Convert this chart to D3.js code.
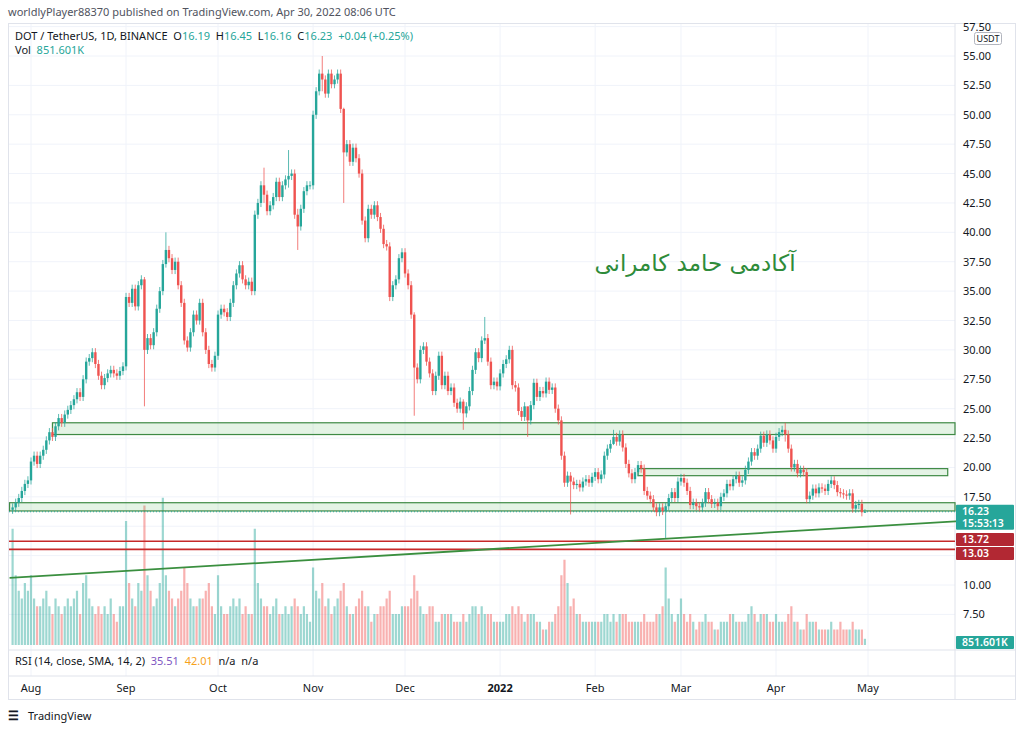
<!DOCTYPE html>
<html><head><meta charset="utf-8">
<script src="https://cdn.jsdelivr.net/npm/d3@7"></script>
<style>
body{margin:0;background:#fff;font-family:"Noto Sans",Roboto,sans-serif}
text{white-space:pre}
</style></head><body>
<script>
// daily closes, one array per month
var julClose = [16.6,17.0,17.4,18.0,18.6,18.9];
var augClose = [20.5,21.0,20.3,21.0,21.5,22.3,23.0,22.6,23.5,24.2,23.8,24.5,24.9,25.3,25.8,26.4,26.0,27.5,29.0,29.3,29.8,28.8,27.8,27.0,27.6,28.0,28.3,28.0,27.8,28.2,28.6];
var sepClose = [34.5,34.0,35.2,33.7,35.5,36.0,30.0,31.0,30.4,31.5,33.5,35.0,37.3,38.5,37.8,36.8,37.5,35.5,34.0,30.8,30.2,31.5,33.0,32.5,34.0,31.5,30.0,28.8,28.5,29.5];
var octClose = [33.0,33.5,33.2,32.8,34.0,35.5,36.5,37.2,36.0,35.5,35.8,35.0,41.5,42.5,44.0,43.2,41.8,42.3,43.0,44.3,43.0,44.0,44.5,44.8,45.0,41.5,40.5,42.0,43.5,44.0,44.0];
var novClose = [50.0,52.0,53.5,53.0,51.8,53.5,52.6,53.0,53.5,50.5,46.8,47.5,46.0,47.2,46.3,45.0,41.0,39.5,42.0,41.5,42.3,41.3,40.3,39.0,38.8,34.5,35.5,36.0,37.8,38.3];
var decClose = [36.5,35.5,33.0,28.5,27.5,30.0,30.3,29.0,28.0,26.5,27.8,29.5,27.0,27.8,26.5,26.8,25.5,25.0,25.6,24.6,25.2,26.5,28.3,29.8,29.3,30.8,31.0,29.0,27.0,27.3,26.9];
var janClose = [28.0,28.8,29.2,30.0,27.0,26.8,24.8,24.3,25.2,24.0,25.3,27.2,26.0,26.5,26.3,27.3,26.6,26.8,25.0,24.0,21.0,18.7,19.3,18.8,18.5,18.6,18.3,18.8,19.0,18.7,19.2];
var febClose = [19.6,19.0,19.4,21.0,21.6,22.0,22.6,22.2,22.8,21.7,20.3,19.5,19.0,19.6,20.2,19.9,18.0,17.6,17.3,16.6,16.2,16.6,16.3,16.7,17.4,17.9,17.4,18.8];
var marClose = [19.1,18.7,18.0,16.8,17.0,16.7,16.6,17.0,17.9,17.3,16.9,17.0,16.7,17.5,17.8,18.6,18.4,19.0,19.3,18.7,18.9,19.8,20.5,21.3,21.0,21.6,22.7,22.1,22.8,22.3,21.6];
var aprClose = [22.6,23.0,23.2,22.8,21.6,20.0,20.3,19.5,19.8,19.6,17.3,17.6,18.2,17.8,18.3,18.2,18.0,18.6,18.9,18.5,17.9,17.8,17.7,17.6,17.8,16.5,16.8,16.9,16.19,16.23];

// daily volume (millions of DOT), same order
var julVol = [15,9,7,6,8,7];
var augVol = [9,6,5,5,6,7,5,4,6,5,4,5,6,5,6,7,4,8,9,6,5,4,5,4,5,4,6,4,3,5,5];
var sepVol = [16,8,6,5,8,7,18,9,7,5,6,8,19,9,7,6,5,6,7,10,8,6,5,5,6,6,7,8,5,4];
var octVol = [9,5,4,4,5,6,5,6,4,5,4,4,15,8,6,5,5,4,5,6,4,4,5,4,5,6,5,4,5,4,3];
var novVol = [10,7,6,8,5,6,4,5,6,7,8,5,4,4,5,6,7,5,5,3,4,4,5,5,6,7,4,4,4,5];
var decVol = [5,5,6,9,7,5,4,4,5,5,3,3,4,4,4,4,3,3,3,4,3,4,5,5,4,5,4,4,4,3,3];
var janVol = [3,3,4,4,5,4,5,4,3,4,4,4,3,3,2,2,3,3,4,5,9,11,8,5,6,4,4,3,3,3,3];
var febVol = [3,3,3,4,4,3,4,3,4,4,4,3,3,3,3,3,4,3,3,3,4,4,5,10,6,4,3,4];
var marVol = [6,4,3,4,3,2,3,3,4,3,3,2,2,3,3,3,4,4,3,3,3,3,4,5,4,3,4,4,4,3,3];
var aprVol = [4,3,3,3,4,5,3,3,2,2,4,3,3,3,2,2,2,2,3,2,2,3,2,2,2,3,2,2,2,0.8];

// notable wicks: [date, high, low]
var wicks = [
  ["2021-09-07", 36.2, 25.2], ["2021-09-14", 40.0, 37.0], ["2021-10-16", 45.5, 42.5],
  ["2021-10-24", 47.0, 43.8], ["2021-10-27", 42.0, 38.5], ["2021-11-04", 55.0, 52.0],
  ["2021-11-11", 50.6, 42.5], ["2021-12-04", 33.2, 24.4], ["2021-12-20", 25.8, 23.2],
  ["2021-12-27", 32.8, 30.5], ["2022-01-10", 25.0, 22.6], ["2022-01-24", 19.6, 16.0],
  ["2022-02-07", 23.2, 21.9], ["2022-02-24", 17.0, 14.0], ["2022-04-04", 23.8, 22.2],
  ["2022-04-30", 16.45, 16.16]
];
var wickPad = 0.35;

var priceTicks = [7.5,10,12.5,15,17.5,20,22.5,25,27.5,30,32.5,35,37.5,40,42.5,45,47.5,50,52.5,55,57.5];
var hiddenLabels = [12.5, 15];
var monthTicks = [["2021-08-01","Aug"],["2021-09-01","Sep"],["2021-10-01","Oct"],["2021-11-01","Nov"],["2021-12-01","Dec"],["2022-01-01","2022"],["2022-02-01","Feb"],["2022-03-01","Mar"],["2022-04-01","Apr"],["2022-05-01","May"]];

var zones = [
  {from:"2021-08-08", to:null, top:23.8, bottom:22.8},
  {from:"2022-02-15", to:"2022-05-27", top:19.9, bottom:19.3},
  {from:"2021-07-25", to:null, top:17.0, bottom:16.3}
];
var redLevels = [13.72, 13.03];
var trend = [["2021-07-25", 10.6], ["2022-06-04", 15.5]];

// ---- build candles ----
var parse = d3.utcParse("%Y-%m-%d");
var months = [["2021-07-26",julClose,julVol],["2021-08-01",augClose,augVol],["2021-09-01",sepClose,sepVol],["2021-10-01",octClose,octVol],["2021-11-01",novClose,novVol],["2021-12-01",decClose,decVol],["2022-01-01",janClose,janVol],["2022-02-01",febClose,febVol],["2022-03-01",marClose,marVol],["2022-04-01",aprClose,aprVol]];
var wickMap = {};
wicks.forEach(function(w){ wickMap[w[0]] = w; });
var candles = [];
var prev = 16.4;
months.forEach(function(m){
  var start = parse(m[0]);
  m[1].forEach(function(c, i){
    var date = d3.utcDay.offset(start, i);
    var key = d3.utcFormat("%Y-%m-%d")(date);
    var o = prev;
    var w = wickMap[key];
    candles.push({date: date, o: o, c: c, v: m[2][i],
      h: w ? w[1] : Math.max(o, c) + wickPad,
      l: w ? w[2] : Math.min(o, c) - wickPad});
    prev = c;
  });
});
candles[candles.length-1].o = 16.19;

var W = 1024, H = 730, axisX = 955;
var svg = d3.select("body").append("svg").attr("width", W).attr("height", H);
var x = d3.scaleUtc().domain([parse("2021-08-01"), parse("2022-05-01")]).range([31, 868]);
var y = d3.scaleLinear().domain([10, 55]).range([585, 56]);
var yv = d3.scaleLinear().domain([0, 20]).range([645, 490]);
var up = "#26a69a", down = "#ef5350";

svg.append("text").attr("x", 8).attr("y", 16).attr("font-size", 11).attr("fill", "#50535e")
  .text("worldlyPlayer88370 published on TradingView.com, Apr 30, 2022 08:06 UTC");
svg.append("rect").attr("x", 8.5).attr("y", 23.5).attr("width", 1007).attr("height", 676)
  .attr("fill", "none").attr("stroke", "#e0e3eb");

// grid
svg.append("g").selectAll("line").data(priceTicks).join("line")
  .attr("x1", 9).attr("x2", axisX).attr("y1", function(d){return y(d);}).attr("y2", function(d){return y(d);})
  .attr("stroke", "#f0f3fa");
svg.append("g").selectAll("line").data(monthTicks).join("line")
  .attr("x1", function(d){return x(parse(d[0]));}).attr("x2", function(d){return x(parse(d[0]));})
  .attr("y1", 24).attr("y2", 676).attr("stroke", "#f0f3fa");
svg.append("line").attr("x1", axisX).attr("x2", axisX).attr("y1", 24).attr("y2", 700).attr("stroke", "#e0e3eb");
svg.append("line").attr("x1", 9).attr("x2", 1015).attr("y1", 650).attr("y2", 650).attr("stroke", "#e0e3eb");
svg.append("line").attr("x1", 9).attr("x2", 1015).attr("y1", 676).attr("y2", 676).attr("stroke", "#e0e3eb");

// volume
svg.append("g").selectAll("rect").data(candles).join("rect")
  .attr("x", function(d){return x(d.date) - 1.1;}).attr("width", 2.2)
  .attr("y", function(d){return yv(d.v);}).attr("height", function(d){return 645 - yv(d.v);})
  .attr("fill", function(d){return d.c >= d.o ? up : down;}).attr("opacity", 0.45);

// zones
zones.forEach(function(z){
  var x0 = x(parse(z.from)), x1 = z.to ? x(parse(z.to)) : axisX;
  svg.append("rect").attr("x", x0).attr("y", y(z.top)).attr("width", x1 - x0)
    .attr("height", y(z.bottom) - y(z.top)).attr("fill", "rgba(76,175,80,0.15)")
    .attr("stroke", "#3f8a45").attr("stroke-width", 1.2);
});
redLevels.forEach(function(v){
  svg.append("line").attr("x1", 9).attr("x2", axisX).attr("y1", y(v)).attr("y2", y(v))
    .attr("stroke", "#c62828").attr("stroke-width", 1.6);
});
svg.append("line")
  .attr("x1", x(parse(trend[0][0]))).attr("y1", y(trend[0][1]))
  .attr("x2", x(parse(trend[1][0]))).attr("y2", y(trend[1][1]))
  .attr("stroke", "#3a8f3f").attr("stroke-width", 1.8);
svg.append("line").attr("x1", 9).attr("x2", axisX).attr("y1", y(16.23)).attr("y2", y(16.23))
  .attr("stroke", "#26a69a").attr("stroke-dasharray", "1,2");

// candles
var cg = svg.append("g");
cg.selectAll("line").data(candles).join("line")
  .attr("x1", function(d){return x(d.date);}).attr("x2", function(d){return x(d.date);})
  .attr("y1", function(d){return y(d.h);}).attr("y2", function(d){return y(d.l);})
  .attr("stroke", function(d){return d.c >= d.o ? up : down;}).attr("opacity", 0.75);
cg.selectAll("rect").data(candles).join("rect")
  .attr("x", function(d){return x(d.date) - 1.2;}).attr("width", 2.4)
  .attr("y", function(d){return y(Math.max(d.o, d.c));})
  .attr("height", function(d){return Math.max(1, Math.abs(y(d.o) - y(d.c)));})
  .attr("fill", function(d){return d.c >= d.o ? up : down;});

// arabic label
svg.append("text").attr("x", 695).attr("y", 271).attr("text-anchor", "middle")
  .attr("font-size", 23).attr("fill", "#2e8b3a").attr("font-family", "DejaVu Sans, Noto Sans")
  .text("آکادمی حامد کامرانی");

// price axis
var ya = svg.append("g").attr("transform", "translate(" + axisX + ",0)")
  .call(d3.axisRight(y).tickValues(priceTicks).tickSize(0).tickPadding(8)
    .tickFormat(function(d){ return hiddenLabels.indexOf(d) >= 0 ? "" : d3.format(".2f")(d); }));
ya.select(".domain").remove();
ya.selectAll("text").attr("font-size", 11).attr("fill", "#131722").attr("font-family", "Noto Sans, sans-serif");
svg.append("rect").attr("x", 974.5).attr("y", 32.5).attr("width", 27).attr("height", 12).attr("rx", 2)
  .attr("fill", "#fff").attr("stroke", "#b2b5be");
svg.append("text").attr("x", 988).attr("y", 42).attr("text-anchor", "middle").attr("font-size", 9).attr("fill", "#131722").text("USDT");

function tag(yTop, h, fill, lines){
  svg.append("rect").attr("x", axisX + 1).attr("y", yTop).attr("width", 58).attr("height", h).attr("fill", fill).attr("rx", 1);
  lines.forEach(function(t, i){
    svg.append("text").attr("x", axisX + 7).attr("y", yTop + 10 + i * 12).attr("font-size", 10.5)
      .attr("font-weight", 600).attr("fill", "#fff").text(t);
  });
}
tag(y(16.23) - 7, 25, up, ["16.23", "15:53:13"]);
tag(533, 13, "#b22833", ["13.72"]);
tag(547, 13, "#b22833", ["13.03"]);
tag(636, 13, up, ["851.601K"]);

// time axis
svg.append("g").selectAll("text").data(monthTicks).join("text")
  .attr("x", function(d){return x(parse(d[0]));}).attr("y", 692).attr("text-anchor", "middle")
  .attr("font-size", 11).attr("fill", "#131722").attr("font-weight", function(d){return d[1] === "2022" ? 700 : 400;})
  .text(function(d){return d[1];});

// legends
var leg = svg.append("text").attr("x", 15).attr("y", 40).attr("font-size", 11).attr("fill", "#131722");
leg.append("tspan").text("DOT / TetherUS, 1D, BINANCE  O");
leg.append("tspan").attr("fill", up).text("16.19");
leg.append("tspan").text("  H");
leg.append("tspan").attr("fill", up).text("16.45");
leg.append("tspan").text("  L");
leg.append("tspan").attr("fill", up).text("16.16");
leg.append("tspan").text("  C");
leg.append("tspan").attr("fill", up).text("16.23  +0.04 (+0.25%)");
var vl = svg.append("text").attr("x", 15).attr("y", 54).attr("font-size", 11).attr("fill", "#131722");
vl.append("tspan").text("Vol  ");
vl.append("tspan").attr("fill", up).text("851.601K");
var rl = svg.append("text").attr("x", 15).attr("y", 665).attr("font-size", 11).attr("fill", "#131722");
rl.append("tspan").text("RSI (14, close, SMA, 14, 2)  ");
rl.append("tspan").attr("fill", "#7e57c2").text("35.51  ");
rl.append("tspan").attr("fill", "#f7a21b").text("42.01  ");
rl.append("tspan").text("n/a  n/a");

// logo
svg.append("text").attr("x", 8).attr("y", 720).attr("font-size", 12).attr("font-weight", 700).attr("fill", "#131722").text("\u2630");
svg.append("text").attr("x", 28).attr("y", 720).attr("font-size", 11).attr("fill", "#131722").text("TradingView");
</script>
</body></html>
